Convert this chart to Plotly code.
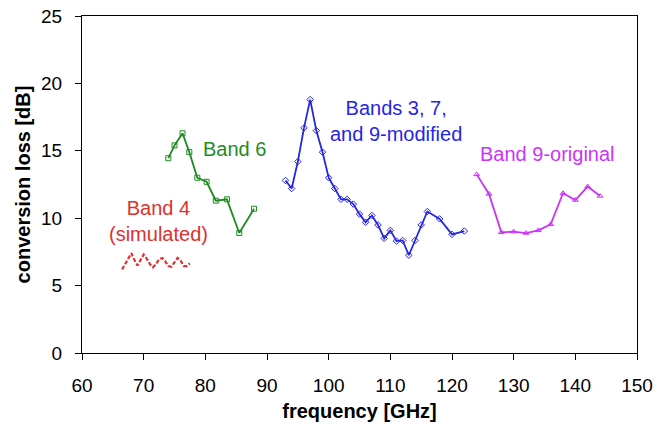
import plotly.graph_objects as go

# Band 4 (simulated)
b4_x = [66.5, 67.0, 67.5, 68.0, 68.5, 69.0, 69.5, 70.0, 70.5, 71.0, 71.5, 72.0,
        72.5, 73.0, 73.5, 74.0, 74.5, 75.0, 75.5, 76.0, 76.5, 77.0, 77.5]
b4_y = [6.2, 6.6, 7.1, 7.4, 6.9, 6.5, 6.9, 7.3, 7.0, 6.6, 6.35, 6.6,
        6.95, 7.05, 6.8, 6.45, 6.4, 6.75, 7.05, 6.85, 6.45, 6.45, 6.65]

# Band 6
b6_x = [74.0, 75.0, 76.3, 77.4, 78.7, 80.2, 81.7, 83.5, 85.5, 87.9]
b6_y = [14.45, 15.4, 16.3, 14.9, 13.0, 12.7, 11.3, 11.4, 8.9, 10.7]

# Bands 3, 7 and 9-modified
b3_x = [93, 94, 95, 96, 97, 98, 99, 100, 101, 102, 103, 104, 105, 106, 107,
        108, 109, 110, 111, 112, 113, 114, 115, 116, 118, 120, 122]
b3_y = [12.8, 12.2, 14.2, 16.7, 18.8, 16.5, 14.9, 13.0, 12.2, 11.4, 11.4, 11.05,
        10.3, 9.7, 10.2, 9.5, 8.5, 9.1, 8.3, 8.35, 7.25, 8.35, 9.5, 10.5, 9.95,
        8.8, 9.05]

# Band 9-original
b9_x = [124, 126, 128, 130, 132, 134, 136, 138, 140, 142, 144]
b9_y = [13.25, 11.8, 8.95, 9.0, 8.9, 9.1, 9.55, 11.85, 11.35, 12.35, 11.65]

x_ticks = [60, 70, 80, 90, 100, 110, 120, 130, 140, 150]
y_ticks = [0, 5, 10, 15, 20, 25]

RED = "#e03030"
GREEN = "#1f8c1f"
BLUE = "#2525e6"
MAGENTA = "#cc33f5"
FONT = "Liberation Sans, Arial, sans-serif"

fig = go.Figure()
fig.add_trace(go.Scatter(x=b4_x, y=b4_y, mode="lines",
                         line=dict(color=RED, width=2.2, dash="4px,2px"),
                         name="Band 4 (simulated)"))
fig.add_trace(go.Scatter(x=b6_x, y=b6_y, mode="lines+markers",
                         line=dict(color=GREEN, width=1.8),
                         marker=dict(symbol="square-open", size=5, color=GREEN,
                                     line=dict(width=1)),
                         name="Band 6"))
fig.add_trace(go.Scatter(x=b3_x, y=b3_y, mode="lines+markers",
                         line=dict(color=BLUE, width=1.8),
                         marker=dict(symbol="diamond-open", size=5, color=BLUE,
                                     line=dict(width=1)),
                         name="Bands 3, 7, and 9-modified"))
fig.add_trace(go.Scatter(x=b9_x, y=b9_y, mode="lines+markers",
                         line=dict(color=MAGENTA, width=1.8),
                         marker=dict(symbol="triangle-up-open", size=5, color=MAGENTA,
                                     line=dict(width=1)),
                         name="Band 9-original"))

ann_font = 20
annotations = [
    dict(x=72.45, y=9.79, text="Band 4<br>(simulated)", font=dict(color=RED, size=ann_font)),
    dict(x=84.65, y=15.13, text="Band 6", font=dict(color=GREEN, size=ann_font)),
    dict(x=110.9, y=17.21, text="Bands 3, 7,<br>and 9-modified", font=dict(color=BLUE, size=ann_font)),
    dict(x=135.56, y=14.76, text="Band 9-original", font=dict(color=MAGENTA, size=ann_font)),
]
for a in annotations:
    a.update(xref="x", yref="y", showarrow=False, xanchor="center", yanchor="middle",
             font=dict(family=FONT, **a["font"]))

fig.update_layout(
    width=668, height=432,
    margin=dict(l=82, r=31, t=16, b=79, autoexpand=False),
    paper_bgcolor="white", plot_bgcolor="white",
    showlegend=False,
    hovermode=False,
    font=dict(family=FONT, size=19, color="black"),
    annotations=annotations,
    xaxis=dict(range=[60, 150], tickvals=x_ticks, ticks="outside", ticklen=6,
               tickcolor="black", showline=True, linecolor="black", linewidth=1,
               mirror=True, showgrid=False, zeroline=False, automargin=False,
               ticklabelstandoff=9,
               title=dict(text="<b>frequency [GHz]</b>", font=dict(size=20), standoff=9)),
    yaxis=dict(range=[0, 25], tickvals=y_ticks, ticks="outside", ticklen=6,
               tickcolor="black", showline=True, linecolor="black", linewidth=1,
               mirror=True, showgrid=False, zeroline=False, automargin=False,
               ticklabelstandoff=9,
               title=dict(text="<b>conversion loss [dB]</b>", font=dict(size=20), standoff=5)),
)

fig.write_html("out.html", config={"displayModeBar": False},
               post_script="document.body.style.margin='0';")
